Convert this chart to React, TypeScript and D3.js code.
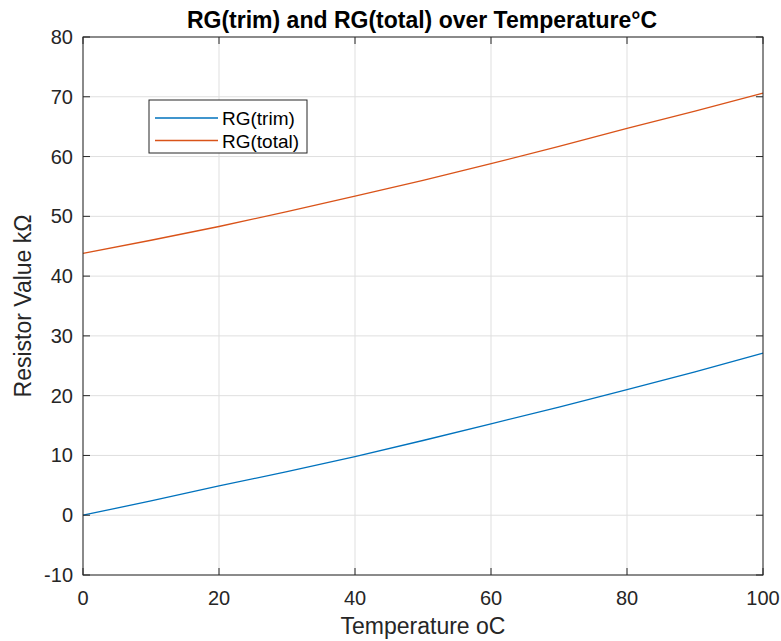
import React from "react";
import * as d3 from "d3";

const temperature = [0, 10, 20, 30, 40, 50, 60, 70, 80, 90, 100];
const rgTrim = [0, 2.4, 4.9, 7.3, 9.8, 12.5, 15.3, 18.1, 21.0, 24.0, 27.1];
const rgTotal = [43.8, 46.0, 48.3, 50.8, 53.4, 56.0, 58.8, 61.7, 64.7, 67.6, 70.6];
const xTicks = [0, 20, 40, 60, 80, 100];
const yTicks = [-10, 0, 10, 20, 30, 40, 50, 60, 70, 80];
const seriesNames = ["RG(trim)", "RG(total)"];
const seriesColors = ["#0072BD", "#D95319"];

const W = 781;
const H = 641;
const L = 83, R = 763, T = 37, B = 575;
const FONT = "'Liberation Sans', Arial, Helvetica, sans-serif";
const AX = "#262626";

export default function App() {
  const x = d3.scaleLinear().domain([0, 100]).range([L, R]);
  const y = d3.scaleLinear().domain([-10, 80]).range([B, T]);
  const line = d3
    .line<[number, number]>()
    .x((d) => x(d[0]))
    .y((d) => y(d[1]));
  const series = [rgTrim, rgTotal].map((vals) =>
    temperature.map((t, i) => [t, vals[i]] as [number, number])
  );
  const tk = 7;
  return (
    <svg
      width={W}
      height={H}
      style={{ position: "absolute", left: 0, top: 0, background: "#fff" }}
      fontFamily={FONT}
    >
      <rect x={0} y={0} width={W} height={H} fill="#fff" />
      {/* grid */}
      {xTicks.map((t) => (
        <line key={"gx" + t} x1={x(t)} x2={x(t)} y1={T} y2={B} stroke="#dfdfdf" strokeWidth={1} />
      ))}
      {yTicks.map((t) => (
        <line key={"gy" + t} x1={L} x2={R} y1={y(t)} y2={y(t)} stroke="#dfdfdf" strokeWidth={1} />
      ))}
      {/* series */}
      {series.map((s, i) => (
        <path key={"s" + i} d={line(s) || ""} fill="none" stroke={seriesColors[i]} strokeWidth={1.3} />
      ))}
      {/* box */}
      <rect x={L} y={T} width={R - L} height={B - T} fill="none" stroke={AX} strokeWidth={1} />
      {/* ticks */}
      {xTicks.map((t) => (
        <g key={"tx" + t}>
          <line x1={x(t)} x2={x(t)} y1={B} y2={B - tk} stroke={AX} />
          <line x1={x(t)} x2={x(t)} y1={T} y2={T + tk} stroke={AX} />
          <text x={x(t)} y={605} textAnchor="middle" fontSize={20} fill={AX}>
            {t}
          </text>
        </g>
      ))}
      {yTicks.map((t) => (
        <g key={"ty" + t}>
          <line x1={L} x2={L + tk} y1={y(t)} y2={y(t)} stroke={AX} />
          <line x1={R} x2={R - tk} y1={y(t)} y2={y(t)} stroke={AX} />
          <text x={73} y={y(t) + 7} textAnchor="end" fontSize={20} fill={AX}>
            {t}
          </text>
        </g>
      ))}
      {/* title */}
      <text x={(L + R) / 2 - 1} y={27.5} textAnchor="middle" fontSize={23} fontWeight="bold" fill="#000">
        RG(trim) and RG(total) over Temperature°C
      </text>
      {/* axis labels */}
      <text x={(L + R) / 2} y={634} textAnchor="middle" fontSize={23} fill={AX}>
        Temperature oC
      </text>
      <text
        transform={`translate(31,${(T + B) / 2}) rotate(-90)`}
        textAnchor="middle"
        fontSize={23}
        fill={AX}
      >
        Resistor Value kΩ
      </text>
      {/* legend */}
      <rect x={149} y={100} width={158} height={53} fill="#fff" stroke={AX} strokeWidth={1} />
      {seriesNames.map((n, i) => (
        <g key={"lg" + i}>
          <line x1={155} x2={218} y1={118 + i * 22.5} y2={118 + i * 22.5} stroke={seriesColors[i]} strokeWidth={1.3} />
          <text x={222} y={118 + i * 22.5 + 7} fontSize={19} fill="#000">
            {n}
          </text>
        </g>
      ))}
    </svg>
  );
}
